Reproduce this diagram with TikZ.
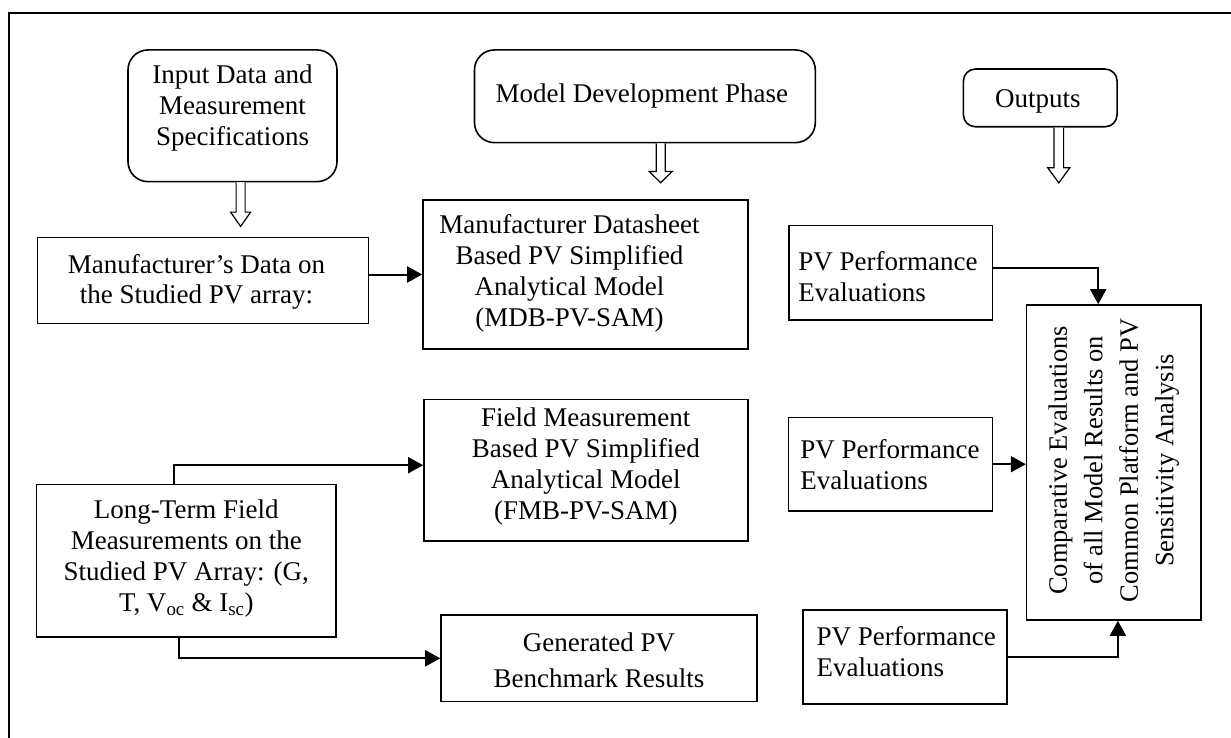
\documentclass[tikz,border=0pt]{standalone}
\usepackage{fontspec}
\setmainfont{Liberation Serif}
\usetikzlibrary{arrows.meta}
\newcommand\bodysize{\fontsize{27}{31}\selectfont}

\begin{document}
\begin{tikzpicture}[x=1pt,y=-1pt,
  box/.style={draw, line width=1.6pt, inner sep=0pt},
  rbox/.style={box, rounded corners=20pt},
  txt/.style={align=center, font=\bodysize, inner sep=0pt},
  ltxt/.style={align=left, font=\bodysize, inner sep=0pt, anchor=west},
  conn/.style={line width=2pt, -{Triangle[length=15pt,width=16pt]}},
  hollow/.style={line width=1.2pt, fill=white, line join=miter}
]
\useasboundingbox (0,0) rectangle (1231,738);

% outer frame (top and left edges)
\draw[line width=2pt] (9,738) -- (9,13) -- (1231,13);

% phase headers
\node[rbox, minimum width=209, minimum height=131.7,
  label={[txt, yshift=8pt]center:{Input Data and\\Measurement\\Specifications}}]
  (inp) at (232.5,115.8) {};
\node[rbox, minimum width=340.8, minimum height=92.7,
  label={[txt, xshift=-3pt]center:{Model Development Phase}}]
  (mdp) at (644.9,96.3) {};
\node[box, rounded corners=12pt, minimum width=153.7, minimum height=57.7,
  label={[txt, xshift=-2.4pt, yshift=-4pt]center:{Outputs}}]
  (out) at (1040.25,97.9) {};

% hollow down arrows under the headers
\draw[hollow] (inp.south) ++(3.6,0) -- ++(0,29.7) -- ++(-5.5,0) -- ++(10,14.3)
  -- ++(10,-14.3) -- ++(-5.5,0) -- ++(0,-29.7);
\draw[hollow] (mdp.south) ++(11.3,0) -- ++(0,28) -- ++(-7,0) -- ++(11.5,11.3)
  -- ++(11.5,-11.3) -- ++(-7,0) -- ++(0,-28);
\draw[hollow] (out.south) ++(13.75,0) -- ++(0,40.3) -- ++(-6.2,0) -- ++(11,15)
  -- ++(11,-15) -- ++(-6.2,0) -- ++(0,-40.3);

% input boxes
\node[box, minimum width=331, minimum height=86,
  label={[txt, font=\fontsize{27}{30}\selectfont, xshift=-6.5pt, yshift=-1.7pt]center:{Manufacturer’s Data on\\the Studied PV array:}}]
  (mfd) at (203,280.3) {};
\node[box, minimum width=299.7, minimum height=152.4,
  label={[txt, yshift=2pt]center:{Long-Term Field\\Measurements on the\\Studied PV Array: (G,\\T, V\textsubscript{oc} \& I\textsubscript{sc})}}]
  (ltf) at (186.3,560.5) {};

% models
\node[box, minimum width=325, minimum height=149,
  label={[txt, xshift=-16pt, yshift=1pt]center:{Manufacturer Datasheet\\Based PV Simplified\\Analytical Model\\(MDB-PV-SAM)}}]
  (mdb) at (585.5,274.5) {};
\node[box, minimum width=323.8, minimum height=141.7,
  label={[txt, yshift=4pt]center:{Field Measurement\\Based PV Simplified\\Analytical Model\\(FMB-PV-SAM)}}]
  (fmb) at (585.8,470.2) {};
\node[box, minimum width=316, minimum height=86.7,
  label={[txt, font=\fontsize{27}{36}\selectfont, yshift=-1.7pt]center:{Generated PV\\Benchmark Results}}]
  (gen) at (599,658.3) {};

% performance evaluations
\node[box, minimum width=203.4, minimum height=94.3,
  label={[ltxt, xshift=10pt, yshift=-4pt]west:{PV Performance\\Evaluations}}]
  (pv1) at (890.7,272.8) {};
\node[box, minimum width=204.1, minimum height=93.7,
  label={[ltxt, xshift=12.7pt, yshift=-0.8pt]west:{PV Performance\\Evaluations}}]
  (pv2) at (890.35,464.2) {};
\node[box, minimum width=204.2, minimum height=94,
  label={[ltxt, xshift=14.3pt, yshift=5.3pt]west:{PV Performance\\Evaluations}}]
  (pv3) at (905.1,657) {};

% comparative evaluation
\node[box, minimum width=174.2, minimum height=315,
  label={[txt, rotate=90, font=\fontsize{26.5}{35.5}\selectfont, xshift=2pt]center:{Comparative Evaluations\\of all Model Results on\\Common Platform and PV\\Sensitivity Analysis}}]
  (cmp) at (1113.7,462.5) {};

% connectors
\draw[conn] (mfd.east |- mdb.west) -- (mdb.west);
\draw[conn] ([xshift=-12.3pt]ltf.north) |- ([yshift=5pt]fmb.west);
\draw[conn] ([xshift=-7.2pt]ltf.south) |- (gen.west);
\draw[conn] ([yshift=5pt]pv1.east) -| ([xshift=-15.5pt]cmp.north);
\draw[conn] (pv2.east) -- (pv2.east -| cmp.west);
\draw[conn] (pv3.east) -| ([xshift=4.2pt]cmp.south);
\end{tikzpicture}
\end{document}
